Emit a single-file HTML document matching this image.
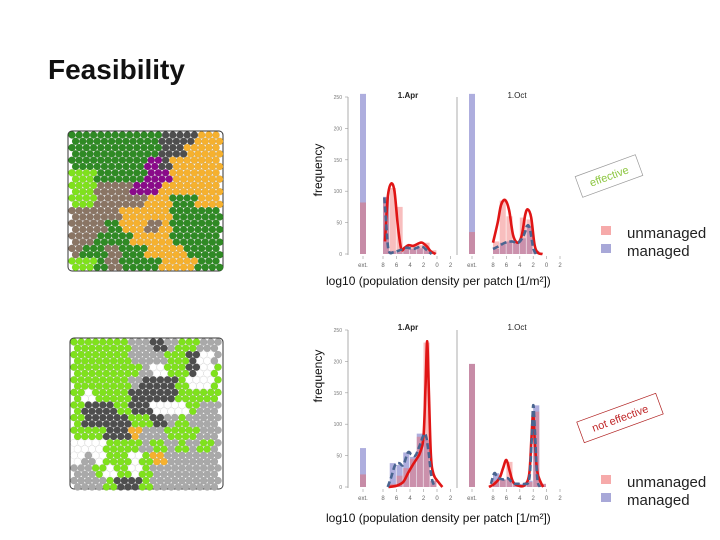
<!DOCTYPE html>
<html><head><meta charset="utf-8"><style>
body{margin:0;width:720px;height:540px;background:#fff;position:relative;overflow:hidden;font-family:"Liberation Sans",sans-serif}
.abs{position:absolute}
</style></head><body>
<div class="abs" style="left:48px;top:54px;font-size:28px;font-weight:bold;color:#111;font-family:'Liberation Sans',sans-serif">Feasibility</div>
<svg id="s" class="abs" style="left:0;top:0" width="720" height="540"></svg>
<script>
// ---- data ----
const binStarts=[-8,-7,-6,-5,-4,-3,-2,-1];
const aprTopUnmanaged=[90,105,75,10,12,14,18,6];
const aprTopManaged=[91,5,3,10,8,9,10,2];
const aprTopExt=[82,260];
const octTopUnmanaged=[20,85,60,20,58,55,5,0];
const octTopManaged=[8,18,20,20,25,45,5,0];
const octTopExt=[35,260];
const aprBotUnmanaged=[0,5,18,30,45,80,230,10];
const aprBotManaged=[0,38,35,55,48,85,75,10];
const aprBotExt=[20,62];
const octBotUnmanaged=[10,12,40,5,3,8,120,5];
const octBotManaged=[22,12,14,5,5,10,130,5];
const octBotExt=[196,196];
// density curves: x (log10) and y (frequency)
const aprTopCurveX=[-7.7,-7.3,-6.8,-6.3,-5.8,-5.3,-4.8,-4.2,-3.5,-2.7,-2.2,-1.5,-0.9,-0.2];
const aprTopCurveY=[20,90,112,100,45,8,10,14,13,17,18,12,4,0];
const aprTopMgdX=[-7.8,-7.6,-7.3,-7.0,-6.4,-5.5,-4.5,-3.5,-2.3,-1.5,-0.8];
const aprTopMgdY=[90,60,15,2,3,6,10,8,12,6,0];
const octTopCurveX=[-8,-7.3,-6.8,-6.2,-5.6,-5.0,-4.3,-3.7,-3.2,-2.8,-2.3,-1.8,-1.3,-0.6];
const octTopCurveY=[18,50,78,86,70,30,18,30,62,71,58,15,2,0];
const octTopMgdX=[-8,-7.2,-6.2,-5.2,-4.2,-3.4,-2.9,-2.5,-2.0,-1.6];
const octTopMgdY=[8,12,18,20,18,30,45,40,10,0];
const aprBotCurveX=[-7.2,-6,-5,-4.3,-3.6,-3.0,-2.5,-2.0,-1.7,-1.45,-1.2,-0.9,-0.5,0.2,0.8];
const aprBotCurveY=[0,2,8,22,35,45,55,80,160,232,150,50,20,8,0];
const aprBotMgdX=[-7.3,-6.8,-6.2,-5.6,-5.0,-4.3,-3.8,-3.2,-2.6,-1.8,-1.3,-0.8,-0.3];
const aprBotMgdY=[0,15,35,38,35,55,52,50,65,85,60,15,0];
const octBotCurveX=[-8.6,-7.8,-7.0,-6.5,-6.0,-5.5,-5.0,-4.2,-3.3,-2.6,-2.25,-2.0,-1.75,-1.4,-0.9,-0.5];
const octBotCurveY=[0,5,15,30,43,25,8,2,3,20,80,118,70,25,8,0];
const octBotMgdX=[-8.3,-7.8,-7.3,-6.5,-5.8,-5.0,-4.2,-3.3,-2.6,-2.25,-2.0,-1.75,-1.4,-1.0];
const octBotMgdY=[5,22,15,12,14,6,5,5,12,70,130,90,15,0];
const yTicks=[0,50,100,150,200,250];
const xTickLabels=["ext.","8","6","4","2","0","2"];
const xTickVals=[null,-8,-6,-4,-2,0,2];

const NS="http://www.w3.org/2000/svg";
const svg=document.getElementById('s');
function mk(tag,attrs,parent){const e=document.createElementNS(NS,tag);for(const k in attrs)e.setAttribute(k,attrs[k]);(parent||svg).appendChild(e);return e;}

// ---- hex maps ----
const map1=["DDDDDDDKKKOO","DDDDDDDKKOOO","DDDDDDPKOOOO","LLDDDDPPOOOO","LLBBBPPOOOOO","LLBBBBOODDOO","BBBBOOOODDDD","BBBDOOBODDDD","BBDDDOOODDDD","BDDBDDOOODDD","LLDBDDDOOODD"];
const map2=["LLLLLGGKGLLGG","LLLLLGGGLLKWG","LLLLLLGWLLKWL","LLLLLGKKKLWWL","LWLLLKKKKLLLL","LKKKLKKWWWLGG","LKKKKLLKGLGGG","LLLKKOGGLLLGG","WWWLLLGLGLGLG","WGWLLWLOGGGGG","GGLWLWLGGGGGG","GGGLKKLGGGGGG"];
const pal={D:"#2f8a24",L:"#7fe21c",B:"#8a7564",O:"#f6b12e",K:"#4e4e4e",P:"#8a0a8a",G:"#a9a9a9",W:"#ffffff"};
function hexMap(grid,x0,y0,w,h,name){
  const g=mk('g',{});
  
  
  mk('rect',{x:x0,y:y0,width:w,height:h,fill:"#fff",stroke:"#333","stroke-width":1,rx:4},g);
  const r=3.6,dx=7.2,dy=6.3;
  const rows=grid.length,cols=grid[0].length;
  for(let j=0;j*dy<h-2;j++){
    for(let i=0;i*dx<w-2;i++){
      const cx=x0+4+i*dx+(j%2?dx/2:0),cy=y0+4+j*dy;
      if(cx>x0+w-2||cy>y0+h-2)continue;
      const gc=Math.min(cols-1,Math.floor((cx-x0)/w*cols));
      const gr=Math.min(rows-1,Math.floor((cy-y0)/h*rows));
      const c=mk('circle',{cx:cx,cy:cy,r:r,fill:pal[grid[gr][gc]],stroke:"rgba(0,0,0,0.12)","stroke-width":0.5},g);
      
      
    }
  }
}
hexMap(map1,68,131,155,140,"landscape-map-effective");
hexMap(map2,70,338,153,151,"landscape-map-not-effective");

// ---- charts ----
function smoothPath(pts){
  let d="M"+pts[0][0]+","+pts[0][1];
  for(let i=0;i<pts.length-1;i++){
    const p0=pts[i-1]||pts[i],p1=pts[i],p2=pts[i+1],p3=pts[i+2]||p2;
    const c1=[p1[0]+(p2[0]-p0[0])/6,p1[1]+(p2[1]-p0[1])/6];
    const c2=[p2[0]-(p3[0]-p1[0])/6,p2[1]-(p3[1]-p1[1])/6];
    d+=" C"+c1+" "+c2+" "+p2;
  }
  return d;
}
function panel(cfg){
  const {axX,extX,x8,unit,y0,top,title,titleX,um,mg,ext,cx,cy,mx,my,name}=cfg;
  const g=mk('g',{});
  
  
  const ys=v=>y0-Math.min(v,255)*157/250;
  const xs=v=>x8+(v+8)*unit;
  mk('line',{x1:axX,y1:y0-157,x2:axX,y2:y0+1,stroke:"#999","stroke-width":0.8},g);
  if(cfg.yLabels){
    yTicks.forEach(t=>{
      mk('line',{x1:axX-3,y1:ys(t),x2:axX,y2:ys(t),stroke:"#999","stroke-width":0.6},g);
      const tx=mk('text',{x:axX-6,y:ys(t)+2,"font-size":5,fill:"#777","text-anchor":"end"},g);
      tx.textContent=t;
      
      
    });
  }
  xTickLabels.forEach((l,i)=>{
    const x=xTickVals[i]===null?extX:xs(xTickVals[i]);
    mk('line',{x1:x,y1:y0+2,x2:x,y2:y0+5,stroke:"#999","stroke-width":0.6},g);
    const tx=mk('text',{x:x,y:y0+13,"font-size":6,fill:"#666","text-anchor":"middle"},g);
    tx.textContent=l;
    
    
  });
  const tt=mk('text',{x:titleX,y:top+5,"font-size":8,"font-weight":cfg.bold?"bold":"normal",fill:"#222","text-anchor":"middle"},g);
  tt.textContent=title;
  
  
  [[ext[1],"rgba(120,120,200,0.6)"],[ext[0],"rgba(230,100,100,0.45)"]].forEach(([v,c])=>{
    const r=mk('rect',{x:extX-3,y:ys(v),width:6,height:y0-ys(v),fill:c},g);
    
    
  });
  binStarts.forEach((b,i)=>{
    const r1=mk('rect',{x:xs(b),y:ys(mg[i]),width:unit-0.6,height:y0-ys(mg[i]),fill:"rgba(120,120,200,0.6)"},g);
    
    
    const r2=mk('rect',{x:xs(b),y:ys(um[i]),width:unit-0.6,height:y0-ys(um[i]),fill:"rgba(240,110,110,0.45)"},g);
    
    
  });
  const p1=mk('path',{d:smoothPath(cx.map((v,i)=>[xs(v),ys(cy[i])])),fill:"none",stroke:"#e01515","stroke-width":2.6},g);
  
  
  const p2=mk('path',{d:smoothPath(mx.map((v,i)=>[xs(v),ys(my[i])])),fill:"none",stroke:"#4a6590","stroke-width":2.6,"stroke-dasharray":"6,3"},g);
  
  
}
panel({name:"top-apr-panel",axX:348,extX:363,x8:383,unit:6.75,y0:254,top:93,title:"1.Apr",titleX:408,bold:1,yLabels:1,um:aprTopUnmanaged,mg:aprTopManaged,ext:aprTopExt,cx:aprTopCurveX,cy:aprTopCurveY,mx:aprTopMgdX,my:aprTopMgdY});
panel({name:"top-oct-panel",axX:457,extX:472,x8:493,unit:6.7,y0:254,top:93,title:"1.Oct",titleX:517,um:octTopUnmanaged,mg:octTopManaged,ext:octTopExt,cx:octTopCurveX,cy:octTopCurveY,mx:octTopMgdX,my:octTopMgdY});
panel({name:"bottom-apr-panel",axX:348,extX:363,x8:383,unit:6.75,y0:487,top:325,title:"1.Apr",titleX:408,bold:1,yLabels:1,um:aprBotUnmanaged,mg:aprBotManaged,ext:aprBotExt,cx:aprBotCurveX,cy:aprBotCurveY,mx:aprBotMgdX,my:aprBotMgdY});
panel({name:"bottom-oct-panel",axX:457,extX:472,x8:493,unit:6.7,y0:487,top:325,title:"1.Oct",titleX:517,um:octBotUnmanaged,mg:octBotManaged,ext:octBotExt,cx:octBotCurveX,cy:octBotCurveY,mx:octBotMgdX,my:octBotMgdY});

function txt(x,y,s,attrs,name){const t=mk('text',Object.assign({x:x,y:y},attrs));t.textContent=s;return t;}
txt(322,170,"frequency",{"font-size":12,fill:"#111","text-anchor":"middle",transform:"rotate(-90 322 170)"},"y-axis-title-top");
txt(322,376,"frequency",{"font-size":12,fill:"#111","text-anchor":"middle",transform:"rotate(-90 322 376)"},"y-axis-title-bottom");
txt(326,285,"log10 (population density per patch [1/m²])",{"font-size":12,fill:"#111"},"x-axis-title-top");
txt(326,522,"log10 (population density per patch [1/m²])",{"font-size":12,fill:"#111"},"x-axis-title-bottom");
[[232,250],[481,499]].forEach((ys,k)=>{
  const r1=mk('rect',{x:601,y:ys[0]-6,width:10,height:9,fill:"#f6aaaa"});
  
  txt(627,ys[0]+6,"unmanaged",{"font-size":15,fill:"#222"},"legend-entry-unmanaged");
  const r2=mk('rect',{x:601,y:ys[1]-6,width:10,height:9,fill:"#a8a8d8"});
  
  txt(627,ys[1]+6,"managed",{"font-size":15,fill:"#222"},"legend-entry-managed");
});
const g1=mk('g',{transform:"translate(609,176) rotate(-20)"});

mk('rect',{x:-32,y:-11,width:64,height:22,fill:"none",stroke:"#999","stroke-width":0.7},g1);
const t1=mk('text',{x:0,y:4,"font-size":11,fill:"#8cc63f","text-anchor":"middle"},g1);t1.textContent="effective";

const g2=mk('g',{transform:"translate(620,418) rotate(-20)"});

mk('rect',{x:-42,y:-11,width:84,height:22,fill:"none",stroke:"#b02020","stroke-width":0.7},g2);
const t2=mk('text',{x:0,y:4,"font-size":11,fill:"#c0282a","text-anchor":"middle"},g2);t2.textContent="not effective";

</script>
</body></html>
